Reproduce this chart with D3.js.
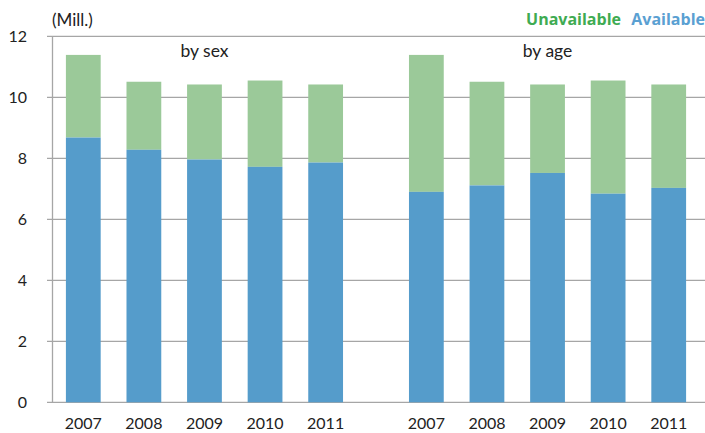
<!DOCTYPE html>
<html><head><meta charset="utf-8">
<script src="https://cdn.jsdelivr.net/npm/d3@7"></script>
<style>body{margin:0;background:#fff}svg{display:block}text{font-family:Lato,"Open Sans",sans-serif;fill:#222}</style>
</head><body><svg id="c" width="705" height="433"></svg>
<script>
const panels = ["by sex", "by age"];
const years = ["2007", "2008", "2009", "2010", "2011"];
const availableBySex = [8.68, 8.28, 7.96, 7.72, 7.86];
const totalBySex = [11.39, 10.51, 10.42, 10.55, 10.42];
const availableByAge = [6.90, 7.11, 7.52, 6.84, 7.03];
const totalByAge = [11.39, 10.51, 10.42, 10.55, 10.42];
const yTicks = [0, 2, 4, 6, 8, 10, 12];
const seriesNames = ["Unavailable", "Available"];

const colAvail = "#559ccb", colUnavail = "#9bc999";
const svg = d3.select("#c");
const y = d3.scaleLinear().domain([0, 12]).range([402.3, 36.3]);
const outer = d3.scaleBand().domain(panels).range([53, 699]).paddingInner(0.117).paddingOuter(0);
const inner = d3.scaleBand().domain(years).range([0, outer.bandwidth()]).paddingInner(0.426).paddingOuter(0.213);

// gridlines
svg.append("g").selectAll("line").data(yTicks).join("line")
  .attr("x1", 47).attr("x2", 705).attr("y1", d => y(d)).attr("y2", d => y(d))
  .attr("stroke", "#a6a6a6").attr("stroke-width", 1.3);
svg.append("line").attr("x1", 52.5).attr("x2", 52.5).attr("y1", y(12)).attr("y2", y(0))
  .attr("stroke", "#a6a6a6").attr("stroke-width", 1.3);

// y labels
svg.append("g").selectAll("text").data(yTicks).join("text")
  .attr("x", 27).attr("y", d => y(d) + 5.5).attr("text-anchor", "end")
  .attr("font-size", 16).text(d => d);

const data = [
  {panel: panels[0], avail: availableBySex, total: totalBySex},
  {panel: panels[1], avail: availableByAge, total: totalByAge}
];
data.forEach(p => {
  const g = svg.append("g").attr("transform", `translate(${outer(p.panel)},0)`);
  const rows = years.map((yr, i) => ({yr, a: p.avail[i], t: p.total[i]}));
  g.selectAll("rect.u").data(rows).join("rect").attr("class", "u")
    .attr("x", d => inner(d.yr)).attr("width", inner.bandwidth())
    .attr("y", d => y(d.t)).attr("height", d => y(d.a) - y(d.t)).attr("fill", colUnavail);
  g.selectAll("rect.a").data(rows).join("rect").attr("class", "a")
    .attr("x", d => inner(d.yr)).attr("width", inner.bandwidth())
    .attr("y", d => y(d.a)).attr("height", d => y(0) - y(d.a)).attr("fill", colAvail);
  g.selectAll("text.yr").data(rows).join("text").attr("class", "yr")
    .attr("x", d => inner(d.yr) + inner.bandwidth() / 2).attr("y", 429)
    .attr("text-anchor", "middle").attr("font-size", 16).text(d => d.yr);
  g.append("text").attr("x", outer.bandwidth() / 2).attr("y", 57)
    .attr("text-anchor", "middle").attr("font-size", 17.5).text(p.panel);
});

svg.append("text").attr("x", 52).attr("y", 26).attr("font-size", 17).text("(Mill.)");
svg.append("text").attr("x", 705).attr("y", 25).attr("text-anchor", "end")
  .style("font-family", "'Open Sans',sans-serif")
  .attr("font-size", 16).attr("font-weight", "bold").style("fill", "#5aa0d2").text(seriesNames[1]);
svg.append("text").attr("x", 621).attr("y", 25).attr("text-anchor", "end")
  .style("font-family", "'Open Sans',sans-serif")
  .attr("font-size", 16).attr("font-weight", "bold").style("fill", "#3fab52").text(seriesNames[0]);
</script></body></html>
